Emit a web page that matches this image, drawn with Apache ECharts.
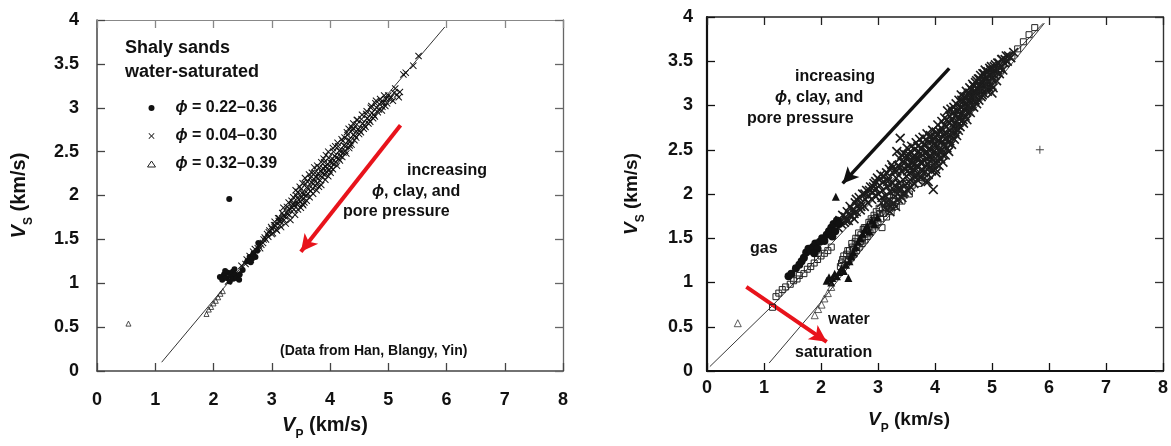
<!DOCTYPE html>
<html><head><meta charset="utf-8">
<script src="https://cdn.jsdelivr.net/npm/echarts@6/dist/echarts.min.js"></script>
<style>html,body{margin:0;padding:0;background:#fff}#c{width:1171px;height:446px}</style>
</head><body><div id="c"></div>
<script>
// ---------- tick labels ----------
const xTickLabels = ['0','1','2','3','4','5','6','7','8'];
const yTickLabels = ['0','0.5','1','1.5','2','2.5','3','3.5','4'];

// ---------- LEFT PANEL: shaly sands, water-saturated ----------
const leftLegendNames = ['ϕ = 0.22–0.36','ϕ = 0.04–0.30','ϕ = 0.32–0.39'];
const leftLine = [[1.11,0.10],[3.00,1.60],[5.97,3.92]];
const leftDot = [[2.27,1.96],[2.11,1.07],[2.15,1.04],[2.18,1.10],[2.22,1.06],[2.25,1.12],[2.28,1.02],[2.30,1.08],[2.33,1.13],[2.34,1.05],[2.37,1.10],[2.40,1.06],[2.44,1.04],[2.45,1.10],[2.20,1.14],[2.36,1.16],[2.50,1.15],[2.58,1.25],[2.62,1.30],[2.66,1.28],[2.68,1.33],[2.72,1.30],[2.75,1.37],[2.77,1.46],[2.64,1.24]];
const leftCross = [
[2.25,1.02],[2.32,1.07],[2.40,1.10],[2.48,1.20],[2.55,1.22],[2.57,1.27],[2.62,1.31],[2.64,1.27],
[2.70,1.33],[2.71,1.39],[2.78,1.43],[2.80,1.40],[2.86,1.50],[2.85,1.46],[2.88,1.52],
[2.94,1.53],[2.95,1.58],[2.92,1.56],[3.00,1.62],[3.02,1.57],[2.99,1.64],
[3.06,1.66],[3.08,1.61],[3.05,1.70],[3.12,1.71],[3.14,1.66],[3.11,1.74],[3.15,1.70],
[3.20,1.77],[3.21,1.72],[3.18,1.80],[3.23,1.76],[3.28,1.83],[3.30,1.78],[3.26,1.87],[3.31,1.85],[3.27,1.79],
[3.36,1.90],[3.38,1.84],[3.34,1.94],[3.39,1.89],[3.35,1.86],
[3.44,1.97],[3.46,1.91],[3.42,2.00],[3.47,1.95],[3.43,1.90],[3.45,2.04],
[3.52,2.03],[3.54,1.96],[3.50,2.07],[3.55,2.01],[3.51,1.98],[3.53,1.90],
[3.60,2.09],[3.62,2.02],[3.58,2.13],[3.63,2.07],[3.59,2.00],[3.61,2.16],
[3.68,2.15],[3.70,2.08],[3.66,2.20],[3.71,2.13],[3.67,2.05],[3.72,2.19],
[3.76,2.21],[3.78,2.14],[3.74,2.26],[3.79,2.19],[3.75,2.11],[3.80,2.25],
[3.84,2.28],[3.86,2.21],[3.82,2.32],[3.87,2.25],[3.83,2.17],[3.88,2.31],
[3.92,2.33],[3.94,2.27],[3.90,2.38],[3.95,2.31],[3.91,2.24],[3.96,2.36],
[4.00,2.38],[4.02,2.32],[3.98,2.43],[4.03,2.37],[3.99,2.29],[4.04,2.42],
[4.08,2.45],[4.10,2.38],[4.06,2.50],[4.11,2.43],[4.07,2.36],
[4.16,2.51],[4.18,2.45],[4.14,2.56],[4.19,2.50],[4.15,2.42],
[4.24,2.57],[4.26,2.51],[4.22,2.62],[4.27,2.56],[4.23,2.49],
[4.32,2.63],[4.34,2.57],[4.30,2.69],[4.35,2.62],
[4.40,2.69],[4.42,2.63],[4.38,2.75],[4.43,2.68],
[4.48,2.75],[4.50,2.70],[4.46,2.81],[4.51,2.74],
[4.56,2.82],[4.58,2.76],[4.54,2.87],[4.59,2.80],
[4.64,2.88],[4.66,2.82],[4.62,2.93],[4.67,2.86],
[4.72,2.94],[4.74,2.88],[4.70,3.00],[4.75,2.92],
[4.80,3.00],[4.82,2.95],[4.78,3.05],[4.88,3.06],[4.90,3.01],[4.86,3.10],
[4.96,3.10],[4.98,3.05],[5.00,3.14],[5.05,3.12],[5.10,3.17],[5.15,3.15],[5.20,3.18],
[3.54,1.89],[4.89,2.97],[4.95,3.02],[5.08,3.08],[4.32,2.76],[4.40,2.82],[4.46,2.86],
[5.26,3.38],[5.30,3.40],[5.43,3.48],[5.52,3.59],
[3.20,1.86],[3.24,1.68],[3.29,1.92],[3.32,1.72],[3.37,1.98],[3.40,1.78],[3.41,2.06],[3.45,1.84],[3.48,2.10],[3.50,1.86],
[3.53,2.14],[3.56,1.92],[3.57,2.20],[3.60,1.94],[3.64,2.24],[3.65,1.98],[3.69,2.26],[3.71,2.02],[3.73,2.32],[3.77,2.06],
[3.78,2.34],[3.81,2.10],[3.85,2.38],[3.85,2.12],[3.89,2.42],[3.92,2.18],[3.93,2.46],[3.97,2.22],[3.97,2.50],[4.01,2.26],
[4.05,2.54],[4.05,2.30],[4.09,2.56],[4.12,2.34],[4.13,2.60],[4.17,2.40],[4.20,2.64],[4.21,2.44],[4.25,2.66],[4.28,2.48],
[4.29,2.72],[4.33,2.54],[4.37,2.78],[4.37,2.58],[4.41,2.76],[4.45,2.66],[4.47,2.86],[4.53,2.72],[4.55,2.92],[4.61,2.78],
[4.63,2.96],[4.69,2.84],[4.71,3.02],[4.77,2.90],[4.79,3.08],[4.84,2.98],[4.92,3.06],[4.93,3.14],[5.02,3.10],[5.12,3.22],
[5.18,3.12],[3.00,1.56],[3.04,1.66],[3.09,1.60],[3.13,1.74],[3.16,1.64],[2.90,1.50],[2.96,1.60],[2.82,1.44],[2.76,1.40],[2.68,1.36]];
const leftTri = [[0.54,0.54],[1.88,0.65],[1.92,0.70],[1.96,0.73],[2.00,0.77],[2.04,0.80],[2.08,0.84],[2.12,0.88],[2.16,0.91]];
const leftArrow = [[5.21,2.80],[3.50,1.36]];

// ---------- RIGHT PANEL: gas vs water saturation ----------
const gasLine = [[0.05,0.05],[1.15,0.74],[3.00,1.99],[5.90,3.93]];
const waterLine = [[1.09,0.09],[1.95,0.74],[3.00,1.60],[5.92,3.93]];
const rightCross = [
[2.30,1.62],[2.33,1.70],[2.36,1.66],[2.38,1.76],[2.41,1.68],[2.43,1.74],[2.46,1.80],[2.48,1.70],[2.51,1.86],[2.53,1.76],
[2.55,1.82],[2.58,1.72],[2.60,1.90],[2.62,1.80],[2.64,1.86],[2.67,1.96],[2.69,1.82],[2.71,1.90],[2.73,2.00],[2.76,1.86],
[2.78,1.94],[2.80,2.04],[2.82,1.90],[2.84,1.98],[2.87,2.08],[2.89,1.94],[2.91,2.02],[2.93,2.12],[2.95,1.98],[2.97,2.06],[2.99,2.18],
[3.01,2.00],[3.03,2.10],[3.05,2.22],[3.06,1.90],[3.08,2.04],[3.10,2.14],[3.12,1.84],[3.13,1.98],[3.15,2.24],[3.16,2.08],
[3.18,1.92],[3.19,2.18],[3.21,1.80],[3.22,2.02],[3.24,2.33],[3.25,2.12],[3.27,1.90],[3.28,2.26],[3.29,2.04],
[3.31,1.86],[3.32,2.18],[3.33,2.48],[3.34,2.00],[3.35,2.32],[3.36,1.94],[3.37,2.12],[3.38,2.40],[3.39,2.63],[3.40,2.06],
[3.41,2.26],[3.42,1.96],[3.43,2.36],[3.44,2.16],[3.45,2.46],[3.46,2.02],[3.47,2.28],[3.48,2.10],[3.49,2.40],
[3.50,2.20],[3.51,2.52],[3.52,2.04],[3.53,2.32],[3.54,2.14],[3.55,2.44],[3.56,2.24],[3.57,2.08],[3.58,2.36],[3.59,2.54],
[3.60,2.18],[3.61,2.42],[3.62,2.28],[3.63,2.12],[3.64,2.50],[3.65,2.34],[3.66,2.20],[3.67,2.58],[3.68,2.40],[3.69,2.16],
[3.70,2.30],[3.71,2.48],[3.72,2.22],[3.73,2.62],[3.74,2.36],
[3.75,2.18],[3.76,2.52],[3.77,2.28],[3.78,2.44],[3.79,2.64],[3.80,2.24],[3.81,2.38],[3.82,2.56],[3.83,2.30],[3.84,2.14],
[3.85,2.48],[3.86,2.68],[3.87,2.34],[3.88,2.22],[3.89,2.58],[3.90,2.42],[3.91,2.30],[3.92,2.66],[3.93,2.50],[3.94,2.26],
[3.95,2.40],[3.96,2.72],[3.97,2.56],[3.97,2.05],[3.98,2.34],[3.99,2.62],
[4.00,2.46],[4.01,2.28],[4.02,2.70],[4.03,2.54],[4.04,2.38],[4.05,2.78],[4.06,2.60],[4.07,2.32],[4.08,2.48],[4.09,2.70],
[4.10,2.40],[4.11,2.58],[4.12,2.82],[4.13,2.50],[4.14,2.36],[4.15,2.68],[4.16,2.56],[4.17,2.86],[4.18,2.44],[4.19,2.62],
[4.20,2.76],[4.21,2.52],[4.22,2.94],[4.23,2.66],[4.24,2.48],
[4.25,2.80],[4.26,2.60],[4.27,2.72],[4.28,2.96],[4.29,2.56],[4.30,2.84],[4.31,2.68],[4.32,2.76],[4.33,2.98],[4.34,2.62],
[4.35,2.88],[4.36,2.74],[4.37,3.02],[4.38,2.66],[4.39,2.82],[4.40,2.94],[4.41,2.72],[4.42,3.06],[4.43,2.86],[4.44,2.76],
[4.45,2.98],[4.46,3.12],[4.47,2.82],[4.48,2.92],[4.49,3.04],
[4.50,2.80],[4.51,2.96],[4.52,3.10],[4.53,2.88],[4.54,3.02],[4.55,3.16],[4.56,2.84],[4.57,3.00],[4.58,3.12],[4.59,2.94],
[4.60,3.06],[4.61,3.20],[4.62,2.92],[4.63,3.08],[4.64,3.18],[4.65,3.00],[4.66,3.24],[4.67,3.12],[4.68,2.98],[4.69,3.16],
[4.70,3.06],[4.71,3.26],[4.72,3.10],[4.73,3.02],[4.74,3.20],
[4.75,3.12],[4.76,3.30],[4.77,3.06],[4.78,3.22],[4.79,3.16],[4.80,3.34],[4.81,3.10],[4.82,3.26],[4.83,3.18],[4.84,3.36],
[4.85,3.14],[4.86,3.28],[4.87,3.22],[4.88,3.40],[4.89,3.18],[4.90,3.32],[4.91,3.24],[4.92,3.16],[4.93,3.38],[4.94,3.28],
[4.95,3.20],[4.96,3.42],[4.97,3.34],[4.98,3.24],[4.99,3.44],
[5.00,3.30],[5.02,3.20],[5.03,3.40],[5.05,3.34],[5.06,3.46],[5.08,3.28],[5.10,3.40],[5.12,3.48],[5.13,3.36],[5.15,3.44],
[5.17,3.52],[5.19,3.40],[5.22,3.48],[5.25,3.56],[5.27,3.50],[5.29,3.56],[5.33,3.54],[5.38,3.60],
[5.00,3.14],[3.88,2.14],[4.02,2.24],
[3.02,2.16],[3.07,1.96],[3.11,2.20],[3.14,1.90],[3.17,2.14],[3.20,2.28],[3.23,1.86],[3.26,2.30],[3.30,2.10],[3.33,2.26],
[3.36,2.06],[3.39,2.30],[3.42,2.44],[3.44,2.00],[3.47,2.36],[3.50,2.44],[3.52,2.26],[3.55,2.32],[3.57,2.48],[3.60,2.26],
[3.62,2.36],[3.65,2.42],[3.67,2.28],[3.70,2.54],[3.72,2.40],[3.75,2.46],[3.77,2.36],[3.80,2.56],[3.82,2.46],[3.84,2.62],
[3.86,2.40],[3.89,2.50],[3.91,2.64],[3.93,2.42],[3.96,2.60],[3.98,2.48],[4.01,2.64],[4.03,2.34],[4.05,2.68],[4.07,2.44],
[4.10,2.62],[4.12,2.74],[4.14,2.44],[4.16,2.78],[4.19,2.68],[4.21,2.84],[4.23,2.58],[4.26,2.88],[4.28,2.66],[4.31,2.92],
[4.33,2.80],[4.35,2.70],[4.38,2.94],[4.40,2.78],[4.42,2.96],[4.44,2.90],[4.47,3.06],[4.49,2.84],[4.51,3.06],[4.54,2.94],
[4.56,3.10],[4.59,3.04],[4.61,3.14],[4.63,3.02],[4.66,3.10],[4.68,3.22],[4.71,3.16],[4.73,3.28],[4.76,3.18],[4.78,3.30],
[4.81,3.28],[4.83,3.12],[4.86,3.36],[4.88,3.30],[4.91,3.38],[4.93,3.26],[4.96,3.34],[4.98,3.40],[5.01,3.36],[5.04,3.44],
[5.07,3.38],[5.10,3.48],[5.14,3.42],[5.18,3.52],[5.23,3.52],[2.62,1.94],[2.70,1.86],[2.77,2.00],[2.85,2.04],[2.92,2.08],
[2.96,2.14],[2.58,1.78],[2.50,1.76],[2.44,1.70]];
const rightSquare = [
[1.15,0.72],[1.21,0.84],[1.26,0.88],[1.32,0.92],[1.38,0.95],[1.46,0.98],[1.52,1.02],[1.58,1.04],[1.62,1.08],[1.70,1.10],
[1.76,1.15],[1.82,1.18],[1.88,1.22],[1.94,1.26],[2.00,1.30],[2.06,1.33],[2.12,1.36],[2.18,1.40],
[2.34,1.18],[2.38,1.26],[2.42,1.20],[2.45,1.32],[2.48,1.24],[2.50,1.36],[2.53,1.28],[2.55,1.40],[2.58,1.32],[2.60,1.46],
[2.62,1.36],[2.65,1.50],[2.67,1.40],[2.70,1.54],[2.72,1.44],[2.74,1.60],[2.77,1.48],[2.79,1.62],[2.81,1.52],[2.84,1.68],
[2.86,1.56],[2.88,1.72],[2.90,1.60],[2.93,1.76],[2.95,1.64],[2.97,1.80],[3.00,1.68],[3.02,1.84],[3.05,1.72],[3.07,1.62],
[3.10,1.78],[3.12,1.90],[3.15,1.74],[3.18,1.86],[3.20,1.96],[3.23,1.80],[3.26,1.92],[3.29,2.02],[3.32,1.86],[3.35,1.98],
[3.38,2.08],[3.42,1.92],[3.46,2.04],[3.50,2.12],[3.55,2.00],[3.60,2.10],[3.66,2.18],[3.72,2.12],[3.78,2.24],[3.85,2.20],
[3.92,2.30],[4.00,2.36],[4.08,2.44],[4.16,2.52],[4.25,2.60],[4.35,2.70],[4.45,2.80],[4.55,2.90],[4.65,2.98],[4.75,3.08],
[4.85,3.16],[4.95,3.24],[5.05,3.32],[5.15,3.40],[5.25,3.48],[5.35,3.56],[5.45,3.64],[5.55,3.72],[5.65,3.80],[5.75,3.88],
[2.36,1.22],[2.40,1.30],[2.44,1.26],[2.47,1.36],[2.51,1.30],[2.54,1.44],[2.57,1.38],[2.61,1.50],[2.63,1.42],[2.66,1.56],
[2.69,1.46],[2.73,1.50],[2.76,1.62],[2.80,1.56],[2.83,1.62],[2.87,1.66],[2.91,1.70],[2.94,1.72],[2.98,1.74],[3.03,1.78],
[3.08,1.82],[3.13,1.84],[3.17,1.92],[3.22,1.88],[3.27,1.98]];
const rightDot = [[1.43,1.07],[1.48,1.10],[1.56,1.16],[1.62,1.20],[1.66,1.24],[1.70,1.28],[1.74,1.34],[1.78,1.38],[1.82,1.36],[1.86,1.40],[1.90,1.44],[1.94,1.38],[1.98,1.46],[2.02,1.50],[2.06,1.47],[2.10,1.54],[2.14,1.58],[2.18,1.62],[2.22,1.66],[2.25,1.58],[2.28,1.70],[2.32,1.66],[2.20,1.52],[1.88,1.33]];
const rightTriFill = [[2.26,1.97],[2.10,1.02],[2.14,1.06],[2.18,1.00],[2.20,1.05],[2.24,1.10],[2.28,1.07],[2.32,1.12],[2.36,1.16],[2.40,1.13],[2.44,1.20],[2.48,1.05],[2.50,1.24],[2.53,1.30],[2.57,1.34],[2.61,1.40],[2.65,1.46],[2.69,1.50],[2.73,1.55],[2.77,1.60],[2.81,1.64],[2.85,1.58],[2.89,1.70],[2.94,1.66],[2.99,1.74]];
const rightTriOpen = [[0.54,0.54],[1.89,0.63],[1.95,0.70],[2.01,0.75],[2.06,0.82],[2.12,0.88],[2.18,0.95]];
const rightPlus = [[5.84,2.50]];
const rightBlackArrow = [[4.25,3.42],[2.38,2.12]];
const rightRedArrow = [[0.69,0.95],[2.10,0.33]];

// ---------- styling ----------
const F = "'Liberation Sans', Arial, sans-serif";
const CROSS_L = 'path://M0,1L1,0L5,4L9,0L10,1L6,5L10,9L9,10L5,6L1,10L0,9L4,5Z';
const CROSS_R = 'path://M0,1.15L1.15,0L5,3.85L8.85,0L10,1.15L6.15,5L10,8.85L8.85,10L5,6.15L1.15,10L0,8.85L3.85,5Z';
const PLUS = 'path://M4.4,0H5.6V4.4H10V5.6H5.6V10H4.4V5.6H0V4.4H4.4Z';

function axisName(sub) {
  return '{v|V}{s|' + sub + '}{t| (km/s)}';
}
function nameRich(size) {
  return {
    v: {fontFamily: F, fontSize: size, fontWeight: 'bold', fontStyle: 'italic', lineHeight: size + 6, verticalAlign: 'top'},
    s: {fontFamily: F, fontSize: Math.round(size * 0.62), fontWeight: 'bold', lineHeight: Math.round(size * 0.62), verticalAlign: 'bottom'},
    t: {fontFamily: F, fontSize: size, fontWeight: 'bold', lineHeight: size + 6, verticalAlign: 'top'}
  };
}
function xAx(grid, pos, opt) {
  return {
    type: 'value', gridIndex: grid, position: pos, min: 0, max: 8, interval: 1,
    axisLine: {show: true, onZero: false, lineStyle: {color: opt.color, width: opt.width}},
    axisTick: {show: true, inside: true, length: 8, lineStyle: {color: opt.color, width: 1.3}},
    axisLabel: {show: !!opt.labels, margin: opt.margin || 0, color: '#111', fontFamily: F, fontSize: 18, fontWeight: 'bold',
      formatter: v => xTickLabels[Math.round(v)]},
    splitLine: {show: false},
    name: opt.name || '', nameLocation: 'middle', nameGap: opt.nameGap || 0,
    nameTextStyle: {color: '#111', padding: opt.namePad || 0, rich: nameRich(opt.nameSize || 20)}
  };
}
function yAx(grid, pos, opt) {
  return {
    type: 'value', gridIndex: grid, position: pos, min: 0, max: 4, interval: 0.5,
    axisLine: {show: true, onZero: false, lineStyle: {color: opt.color, width: opt.width}},
    axisTick: {show: true, inside: true, length: 8, lineStyle: {color: opt.color, width: 1.3}},
    axisLabel: {show: !!opt.labels, margin: opt.margin || 0, color: '#111', fontFamily: F, fontSize: 18, fontWeight: 'bold',
      formatter: v => yTickLabels[Math.round(v * 2)]},
    splitLine: {show: false},
    name: opt.name || '', nameLocation: 'middle', nameGap: opt.nameGap || 0, nameRotate: 90,
    nameTextStyle: {color: '#111', rich: nameRich(opt.nameSize || 20)}
  };
}

function scatter(name, data, xi, yi, symbol, size, fill, stroke, bw, z) {
  return {
    type: 'scatter', name: name, data: data, xAxisIndex: xi, yAxisIndex: yi,
    symbol: symbol, symbolSize: size, silent: true, z: z || 2,
    itemStyle: {color: fill, borderColor: stroke, borderWidth: bw, opacity: 1}
  };
}
function lineS(data, xi, yi, color, w) {
  return {type: 'line', data: data, xAxisIndex: xi, yAxisIndex: yi, symbol: 'none', silent: true,
    lineStyle: {color: color, width: w}, z: 3};
}
function arrow(pts, xi, yi, color, w, size) {
  return {type: 'line', data: [], xAxisIndex: xi, yAxisIndex: yi, silent: true, z: 6,
    markLine: {silent: true, animation: false, symbol: ['none', 'arrow'], symbolSize: size,
      label: {show: false}, emphasis: {disabled: true},
      lineStyle: {color: color, width: w, type: 'solid', opacity: 1},
      data: [[{coord: pts[0]}, {coord: pts[1]}]]}};
}

const TXT = (text, x, y, size, extra) => ({
  type: 'text', x: x, y: y, silent: true, z: 10,
  style: Object.assign({text: text, font: 'bold ' + size + 'px ' + F, fill: '#111', verticalAlign: 'middle', align: 'left'}, extra || {})
});
const phiRich = (size) => ({p: {fontFamily: F, fontSize: size, fontWeight: 'bold', fontStyle: 'italic', fill: '#111'},
                            t: {fontFamily: F, fontSize: size, fontWeight: 'bold', fill: '#111'}});

const chart = echarts.init(document.getElementById('c'), null, {renderer: 'canvas'});
chart.setOption({
  animation: false,
  backgroundColor: '#fff',
  grid: [
    {left: 97, top: 20, width: 466, height: 357},
    {left: 707, top: 17, width: 463, height: 354}
  ],
  xAxis: [
    xAx(0, 'bottom', {color: '#444', width: 1.5, labels: true, margin: 20, name: axisName('P'), nameGap: 44, nameSize: 20, namePad: [0, 10, 0, 0]}),
    xAx(0, 'top', {color: '#888', width: 1.2}),
    xAx(1, 'bottom', {color: '#111', width: 2.2, labels: true, margin: 8, name: axisName('P'), nameGap: 39, nameSize: 19, namePad: [0, 52, 0, 0]}),
    xAx(1, 'top', {color: '#222', width: 1.6})
  ],
  yAxis: [
    yAx(0, 'left', {color: '#444', width: 1.5, labels: true, margin: 18, name: axisName('S'), nameGap: 62, nameSize: 20}),
    yAx(0, 'right', {color: '#666', width: 1.3}),
    yAx(1, 'left', {color: '#111', width: 2.2, labels: true, margin: 14, name: axisName('S'), nameGap: 60, nameSize: 19}),
    yAx(1, 'right', {color: '#333', width: 1.4})
  ],
  legend: {
    orient: 'vertical', left: 142, top: 95, itemWidth: 8, itemHeight: 6, itemGap: 12,
    selectedMode: false,
    data: [
      {name: leftLegendNames[0], itemStyle: {borderWidth: 0}},
      {name: leftLegendNames[1], itemStyle: {borderWidth: 0}},
      {name: leftLegendNames[2], itemStyle: {borderWidth: 1}}
    ],
    formatter: n => '{p|ϕ}{t|' + n.slice(1) + '}',
    textStyle: {padding: [0, 0, 0, 15], lineHeight: 16,
      rich: {p: {fontFamily: F, fontSize: 16, fontWeight: 'bold', fontStyle: 'italic', color: '#111'},
             t: {fontFamily: F, fontSize: 16, fontWeight: 'bold', color: '#111'}}}
  },
  series: [
    lineS(leftLine, 0, 0, '#333', 1),
    scatter(leftLegendNames[1], leftCross, 0, 0, CROSS_L, 7, '#111', '#111', 0, 4),
    scatter(leftLegendNames[0], leftDot, 0, 0, 'circle', 6, '#111', '#111', 0, 5),
    scatter(leftLegendNames[2], leftTri, 0, 0, 'triangle', 5, 'rgba(0,0,0,0)', '#222', 0.8, 5),
    arrow(leftArrow, 0, 0, '#e8131b', 4, [13, 17]),

    lineS(gasLine, 2, 2, '#222', 0.9),
    lineS(waterLine, 2, 2, '#222', 0.9),
    scatter('rc', rightCross, 2, 2, CROSS_R, 10, '#1c1c1c', '#1c1c1c', 0, 4),
    scatter('rsq', rightSquare, 2, 2, 'rect', 6, 'rgba(0,0,0,0)', '#222', 1, 5),
    scatter('rdot', rightDot, 2, 2, 'circle', 8, '#111', '#111', 0, 5),
    scatter('rtf', rightTriFill, 2, 2, 'triangle', 8, '#111', '#111', 0, 5),
    scatter('rto', rightTriOpen, 2, 2, 'triangle', 7, 'rgba(0,0,0,0)', '#333', 0.8, 5),
    scatter('rplus', rightPlus, 2, 2, PLUS, 8, '#444', '#444', 0, 5),
    arrow(rightBlackArrow, 2, 2, '#111', 3.5, [12, 16]),
    arrow(rightRedArrow, 2, 2, '#e8131b', 4, [13, 17])
  ],
  graphic: [
    TXT('Shaly sands', 125, 48, 18),
    TXT('water-saturated', 125, 72, 18),
    TXT('increasing', 407, 171, 16),
    TXT('{p|ϕ}{t|, clay, and}', 372, 192, 16, {rich: phiRich(16)}),
    TXT('pore pressure', 343, 212, 16),
    TXT('(Data from Han, Blangy, Yin)', 280, 351, 14),
    TXT('increasing', 795, 77, 16),
    TXT('{p|ϕ}{t|, clay, and}', 775, 98, 16, {rich: phiRich(16)}),
    TXT('pore pressure', 747, 119, 16),
    TXT('gas', 750, 249, 16),
    TXT('water', 828, 320, 16),
    TXT('saturation', 795, 353, 16)
  ]
});
</script></body></html>
